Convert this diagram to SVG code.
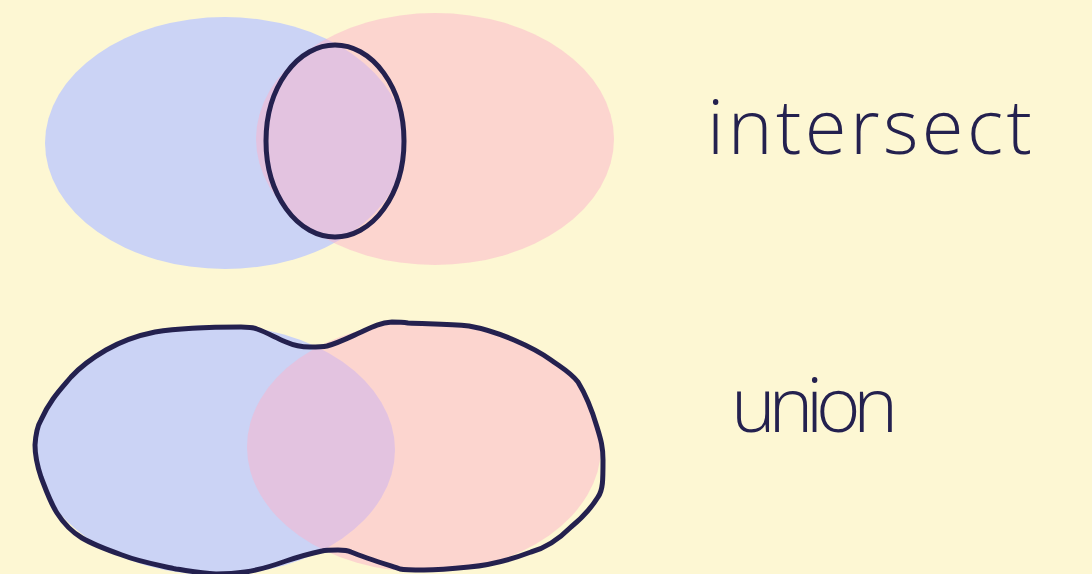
<svg xmlns="http://www.w3.org/2000/svg" width="1092" height="574" viewBox="0 0 1092 574">
<style>
.blue{fill:#cbd3f5}
.pink{fill:#fbb3cb;fill-opacity:0.5}
.outline{fill:none;stroke:#24214f;stroke-width:5;stroke-linejoin:round}
.label{font-family:"Open Sans","Liberation Sans",sans-serif;font-weight:300;font-size:76px;fill:#24214f}
</style>
<rect width="1092" height="574" fill="#fdf7d3"/>
<g id="intersect-set-a"><ellipse class="blue" cx="225" cy="143" rx="180" ry="126"/></g>
<g id="intersect-set-b"><ellipse class="pink" cx="435" cy="139" rx="179" ry="126"/></g>
<g id="intersect-outline"><ellipse class="outline" cx="335" cy="141" rx="69" ry="96"/></g>
<g id="intersect-label"><text class="label" x="707" y="154" textLength="325" lengthAdjust="spacing">intersect</text></g>
<g id="union-set-a"><ellipse class="blue" cx="215" cy="450" rx="180" ry="125"/></g>
<g id="union-set-b"><ellipse class="pink" cx="424" cy="447" rx="177" ry="125"/></g>
<g id="union-outline"><path class="outline" d="M35,445 C36,430 38,425 41,420 C50,400 60,390 71,377 C82,365 94,357 106,350 C120,342 135,336 155,332 C180,328 215,327 241,327 C248,327 252,327 257,329 C268,333 276,338 286,342 C295,346 302,347 310,347 C318,347 322,347 327,346 C338,343 348,338 359,333 C370,328 378,323 392,322 C398,322 402,322 408,323 C430,324 450,324 469,326 C486,329 500,334 514,340 C528,346 540,352 551,360 C562,368 570,372 578,382 C586,395 592,410 597,427 C601,440 603,447 603,460 C603,480 603,490 598,497 C590,510 582,518 571,527 C558,540 546,548 531,552 C510,560 490,565 469,567 C450,569 435,570 424,570 C412,570 405,570 400,569 C385,564 366,558 351,552 C347,550 344,550 338,550 C330,550 326,550 322,551 C308,554 298,557 286,561 C272,566 260,570 245,572 C232,574 225,574 216,574 C200,573 190,571 176,569 C158,565 140,562 122,555 C105,549 92,544 82,538 C72,532 64,524 57,513 C50,502 46,490 41,477 C37,465 35,455 35,445 Z"/></g>
<g id="union-label"><text class="label" x="731" y="432" textLength="167" lengthAdjust="spacing">union</text></g>
</svg>
